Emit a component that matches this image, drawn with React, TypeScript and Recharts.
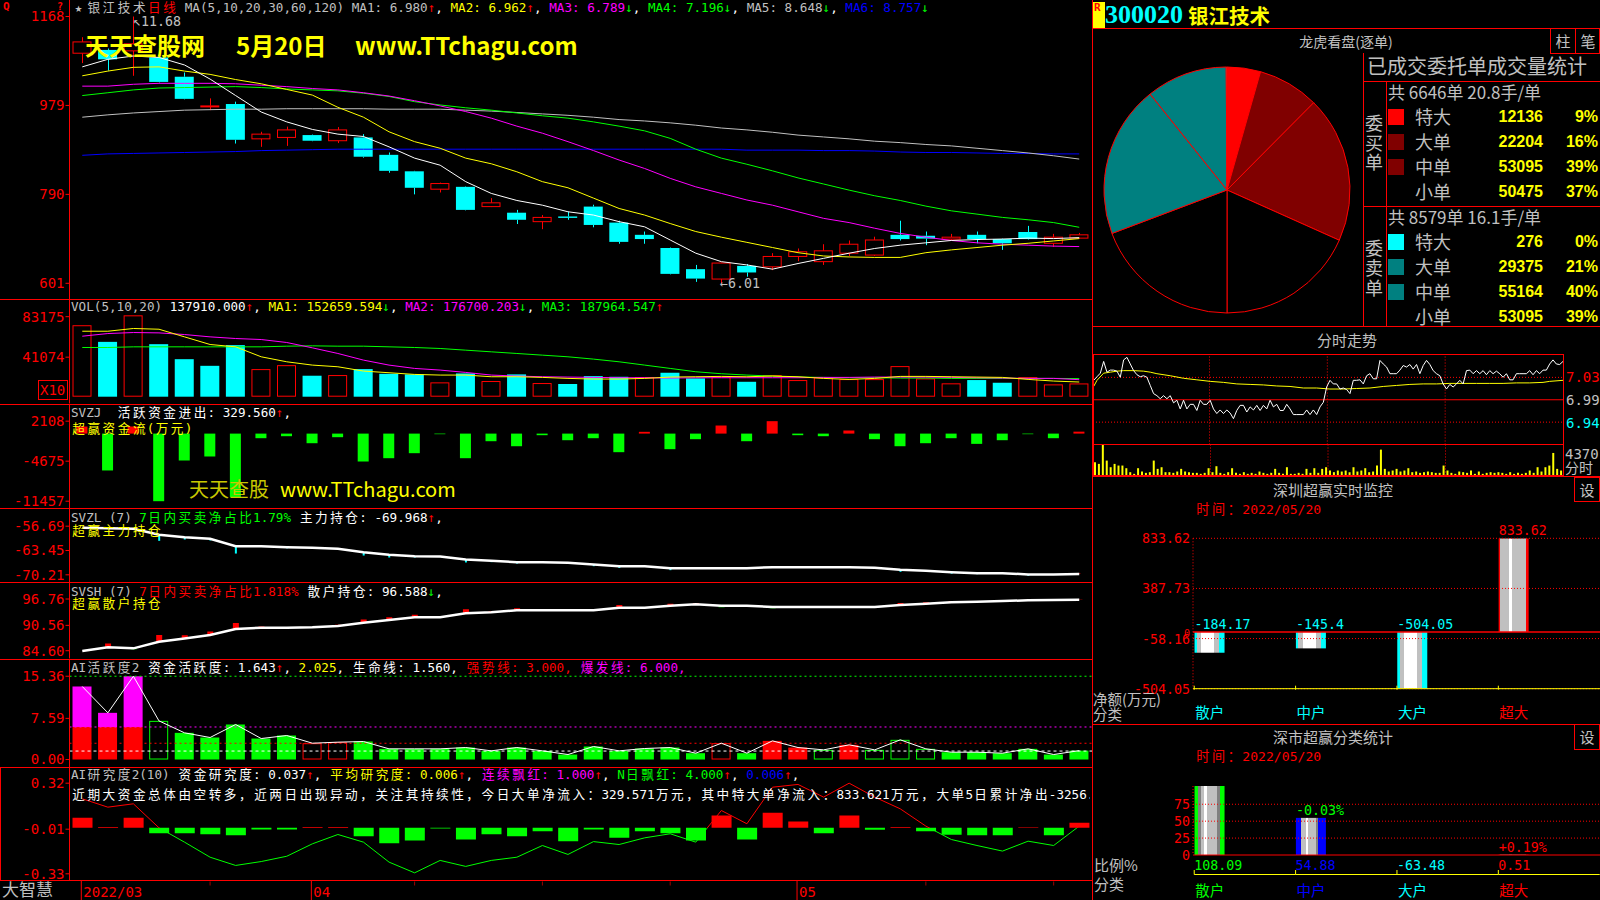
import React from 'react';
import { ComposedChart, Bar, Line, XAxis, YAxis, ReferenceLine, Cell, PieChart, Pie, LabelList } from 'recharts';

const RED = '#ff0000';
const CYAN = '#00ffff';
const GRN = '#00ff00';
const YEL = '#ffff00';
const MAG = '#ff00ff';
const BLU = '#0000ff';
const GRY = '#c0c0c0';
const WHT = '#ffffff';
const DRED = '#800000';
const TEAL = '#008080';
const MONO = '"DejaVu Sans Mono", "Noto Sans CJK SC", monospace';
const CJK = '"Noto Sans CJK SC", "DejaVu Sans", sans-serif';

// ---------- daily bars, 2022/03/21 .. 2022/05/20 ----------
const DATES = [
  '2022/03/21', '2022/03/22', '2022/03/23', '2022/03/24', '2022/03/25', '2022/03/28', '2022/03/29', '2022/03/30', '2022/03/31',
  '2022/04/01', '2022/04/06', '2022/04/07', '2022/04/08', '2022/04/11', '2022/04/12', '2022/04/13', '2022/04/14', '2022/04/15',
  '2022/04/18', '2022/04/19', '2022/04/20', '2022/04/21', '2022/04/22', '2022/04/25', '2022/04/26', '2022/04/27', '2022/04/28', '2022/04/29',
  '2022/05/05', '2022/05/06', '2022/05/09', '2022/05/10', '2022/05/11', '2022/05/12', '2022/05/13', '2022/05/16', '2022/05/17', '2022/05/18', '2022/05/19', '2022/05/20',
];
const DATE_MINOR_TICKS = [5, 13, 18, 23, 33, 38];

const OPEN = [10.90, 10.97, 10.95, 10.81, 10.40, 9.77, 9.82, 9.08, 9.11, 9.16, 9.04, 9.11, 8.74, 8.39, 8.01, 8.06, 7.64, 7.51, 7.32, 7.43,
  7.64, 7.30, 7.04, 6.76, 6.31, 6.10, 6.38, 6.36, 6.58, 6.47, 6.65, 6.61, 7.04, 7.02, 6.95, 7.04, 6.95, 7.10, 6.86, 6.97];
const HIGH = [11.24, 11.00, 11.68, 10.83, 10.49, 9.94, 9.87, 9.23, 9.34, 9.17, 9.33, 9.18, 8.79, 8.40, 8.15, 8.07, 7.82, 7.57, 7.46, 7.53,
  7.68, 7.34, 7.11, 6.77, 6.40, 6.45, 6.42, 6.65, 6.75, 6.84, 6.92, 7.00, 7.34, 7.11, 7.06, 7.11, 6.96, 7.23, 7.06, 7.08];
const LOW = [10.69, 10.53, 10.42, 10.28, 9.92, 9.69, 8.98, 8.91, 8.93, 9.03, 8.99, 8.68, 8.36, 7.90, 7.94, 7.56, 7.63, 7.27, 7.16, 7.36,
  7.20, 6.85, 6.85, 6.20, 6.04, 6.01, 6.15, 6.29, 6.48, 6.40, 6.59, 6.59, 6.92, 6.82, 6.92, 6.86, 6.72, 6.94, 6.78, 6.96];
const CLOSE = [11.14, 10.77, 11.10, 10.29, 9.93, 9.78, 9.06, 9.18, 9.27, 9.04, 9.27, 8.70, 8.40, 8.04, 8.13, 7.57, 7.72, 7.36, 7.41, 7.40,
  7.25, 6.89, 6.95, 6.21, 6.11, 6.44, 6.24, 6.58, 6.68, 6.70, 6.84, 6.93, 6.95, 6.96, 6.99, 6.95, 6.86, 6.95, 6.99, 7.04];

const MA5 = [10.61, 10.77, 10.84, 10.81, 10.65, 10.35, 10.00, 9.65, 9.44, 9.28, 9.18, 9.13, 8.91, 8.67, 8.52, 8.17, 7.92, 7.77, 7.67, 7.53,
  7.46, 7.32, 7.21, 6.93, 6.65, 6.47, 6.40, 6.31, 6.43, 6.54, 6.65, 6.75, 6.82, 6.87, 6.92, 6.94, 6.95, 6.97, 6.96, 6.98];
const MA10 = [10.42, 10.52, 10.60, 10.61, 10.52, 10.45, 10.34, 10.25, 10.13, 10.01, 9.75, 9.54, 9.23, 9.02, 8.88, 8.67, 8.55, 8.38, 8.17, 8.04,
  7.82, 7.60, 7.46, 7.28, 7.11, 6.99, 6.88, 6.77, 6.66, 6.59, 6.57, 6.56, 6.56, 6.66, 6.72, 6.77, 6.82, 6.86, 6.91, 6.96];
const MA20 = [10.20, 10.20, 10.24, 10.26, 10.26, 10.26, 10.25, 10.22, 10.19, 10.15, 10.12, 10.06, 9.99, 9.89, 9.78, 9.66, 9.52, 9.35, 9.20, 9.02,
  8.83, 8.63, 8.45, 8.24, 8.06, 7.92, 7.78, 7.67, 7.53, 7.39, 7.30, 7.18, 7.07, 6.99, 6.92, 6.87, 6.84, 6.82, 6.80, 6.79];
const MA30 = [10.00, 10.06, 10.12, 10.16, 10.17, 10.18, 10.19, 10.17, 10.14, 10.12, 10.10, 10.05, 9.98, 9.87, 9.80, 9.74, 9.69, 9.63, 9.57, 9.52,
  9.44, 9.35, 9.25, 9.09, 8.86, 8.67, 8.54, 8.40, 8.25, 8.12, 7.99, 7.87, 7.77, 7.65, 7.55, 7.48, 7.41, 7.36, 7.30, 7.20];
const MA60 = [9.54, 9.59, 9.63, 9.66, 9.69, 9.70, 9.71, 9.71, 9.72, 9.72, 9.72, 9.72, 9.71, 9.71, 9.71, 9.69, 9.67, 9.64, 9.61, 9.58,
  9.54, 9.49, 9.46, 9.42, 9.37, 9.31, 9.27, 9.22, 9.16, 9.12, 9.08, 9.03, 9.00, 8.96, 8.93, 8.88, 8.83, 8.78, 8.72, 8.65];
const MA120 = [8.73, 8.76, 8.77, 8.78, 8.79, 8.80, 8.81, 8.83, 8.84, 8.85, 8.86, 8.86, 8.86, 8.86, 8.86, 8.86, 8.86, 8.86, 8.86, 8.86,
  8.86, 8.86, 8.86, 8.86, 8.86, 8.86, 8.84, 8.84, 8.84, 8.83, 8.83, 8.82, 8.80, 8.79, 8.79, 8.78, 8.77, 8.77, 8.76, 8.76];

// volume shown on the x10 axis
const VOL = [74300, 57000, 84600, 54600, 39000, 32100, 53600, 28700, 32800, 21800, 22500, 28700, 23800, 23200, 14900, 24200, 16300, 23200, 14200, 13200,
  21400, 20700, 20400, 24900, 19000, 20700, 15500, 22500, 17300, 20100, 18300, 18300, 31800, 19000, 13900, 17300, 14500, 20400, 12800, 13791];
const VMA5 = [68060, 68060, 70900, 70140, 62190, 54250, 51830, 41470, 36290, 32840, 31110, 26630, 24900, 23170, 22480, 22480, 20750, 20750, 20060, 19030,
  18340, 18340, 19030, 20410, 20750, 21100, 20750, 21450, 20750, 19030, 17990, 19030, 21100, 21100, 20750, 20410, 20060, 17990, 16270, 15266];
const VMA10 = [62890, 65650, 66690, 66340, 64610, 62190, 60470, 59430, 56330, 50800, 44930, 38020, 32840, 29390, 27660, 25250, 22480, 21450, 20750, 20410,
  20060, 19720, 19720, 19370, 19720, 19720, 19720, 19720, 19720, 20060, 20060, 20410, 20410, 20410, 20060, 19720, 19370, 19030, 19030, 17670];
const VMA20 = [51150, 51150, 51830, 51830, 51830, 51830, 51830, 51830, 52520, 52870, 52520, 52520, 51830, 51150, 50110, 48380, 46650, 44930, 43200, 41470,
  39060, 36290, 32840, 29390, 25930, 23860, 22480, 21450, 20410, 20060, 19720, 19720, 19370, 19370, 19030, 19030, 19030, 19030, 19030, 18796];

const SVZJ = [1200, -6250, 1200, -11457, -4560, -3880, -10780, -780, -440, -1630, -610, -4730, -4170, -3320, -100, -4170, -1290, -2140, -270, -1120,
  -780, -3150, 300, -2640, -950, 1370, -1290, 2108, -270, -440, 525, -950, -2140, -1630, -780, -1740, -1120, -100, -780, 330];
const SVZL = [-57.14, -57.24, -57.42, -59.09, -59.74, -60.20, -62.25, -62.25, -62.53, -62.71, -62.99, -63.92, -64.66, -65.03, -65.12, -65.95, -66.32, -66.70, -66.70, -66.87,
  -67.34, -67.82, -67.82, -68.37, -68.37, -68.37, -68.37, -68.09, -68.09, -68.09, -68.09, -68.27, -68.83, -69.10, -69.49, -69.76, -69.76, -70.12, -70.12, -69.97];
const SVSH = [84.53, 85.40, 85.16, 86.72, 87.48, 88.29, 89.70, 90.01, 90.01, 90.10, 90.41, 91.19, 91.82, 92.45, 92.45, 93.40, 93.63, 94.10, 94.10, 94.10,
  94.10, 94.72, 94.72, 95.18, 95.51, 95.18, 95.18, 94.88, 94.88, 94.88, 94.88, 94.88, 95.35, 95.66, 95.98, 96.13, 96.30, 96.45, 96.55, 96.59];

const AIHY = [13.47, 8.61, 15.36, 7.13, 4.92, 4.06, 6.46, 3.87, 4.43, 3.01, 3.20, 3.32, 1.97, 1.97, 1.97, 2.21, 1.60, 2.21, 1.60, 0.92,
  2.40, 1.60, 2.03, 2.21, 1.17, 3.01, 1.17, 3.44, 2.21, 1.78, 2.71, 1.78, 3.63, 1.97, 1.35, 1.35, 1.17, 1.97, 0.92, 1.64];
// B burst, G green, h green hollow, R red, r red hollow
const AIHY_SIG = ['B', 'B', 'B', 'h', 'G', 'G', 'G', 'G', 'G', 'r', 'r', 'G', 'G', 'G', 'G', 'G', 'G', 'G', 'G', 'G',
  'G', 'G', 'G', 'G', 'G', 'r', 'G', 'R', 'R', 'h', 'R', 'h', 'h', 'h', 'G', 'G', 'G', 'G', 'G', 'G'];
const LIFE_LINE = 1.56;
const STRONG_LINE = 3;
const BURST_LINE = 6;
const AIHY_TOP = 15.36;

const AIYJ = [0.072, 0.005, 0.072, -0.039, -0.039, -0.046, -0.053, -0.012, -0.012, 0.005, 0.005, -0.060, -0.110, -0.091, -0.005, -0.084, -0.046, -0.060, -0.024, -0.096,
  -0.012, -0.072, -0.024, -0.039, -0.091, 0.088, -0.084, 0.107, 0.045, -0.039, 0.088, -0.014, 0.005, -0.024, -0.050, -0.053, -0.053, 0.004, -0.053, 0.037];
const AIYJ_LINE = [0.208, 0.148, 0.172, 0.000, -0.103, -0.211, -0.270, -0.242, -0.204, -0.115, -0.048, -0.103, -0.246, -0.323, -0.234, -0.277, -0.234, -0.211, -0.127, -0.191,
  -0.099, -0.120, -0.072, -0.043, -0.103, 0.124, 0.029, 0.291, 0.311, 0.220, 0.320, 0.220, 0.136, 0.012, -0.084, -0.127, -0.167, -0.096, -0.127, 0.012];

// ---------- right side ----------
const ORDER_CLASSES = ['特大', '大单', '中单', '小单'];
const BUY_VOL = [12136, 22204, 53095, 50475];
const BUY_PCT = ['9%', '16%', '39%', '37%'];
const SELL_VOL = [276, 29375, 55164, 53095];
const SELL_PCT = ['0%', '21%', '40%', '39%'];
const BUY_COUNT = '共 6646单 20.8手/单';
const SELL_COUNT = '共 8579单 16.1手/单';

const PREV_CLOSE = 6.99;
const MIN_PRICE = [7.028, 7.035, 7.042, 7.065, 7.044, 7.048, 7.048, 7.046, 7.034, 7.068, 7.073, 7.060, 7.047, 7.039, 7.035, 7.037, 7.034, 7.018, 7.002, 6.998,
  6.992, 6.998, 6.992, 6.998, 6.984, 6.989, 6.972, 6.989, 6.972, 6.981, 6.981, 6.969, 6.989, 6.981, 6.981, 6.989, 6.972, 6.963, 6.970, 6.963,
  6.970, 6.964, 6.953, 6.969, 6.979, 6.979, 6.966, 6.976, 6.970, 6.979, 6.969, 6.979, 6.972, 6.989, 6.976, 6.981, 6.969, 6.969, 6.981, 6.972,
  6.961, 6.961, 6.961, 6.961, 6.970, 6.961, 6.970, 6.961, 6.976, 6.985, 7.015, 7.028, 7.021, 7.021, 7.011, 7.013, 7.010, 7.002, 7.028, 7.028,
  7.029, 7.021, 7.037, 7.041, 7.031, 7.031, 7.067, 7.060, 7.054, 7.041, 7.041, 7.041, 7.048, 7.057, 7.054, 7.059, 7.050, 7.059, 7.041, 7.057,
  7.067, 7.059, 7.047, 7.041, 7.037, 7.021, 7.011, 7.020, 7.015, 7.021, 7.028, 7.021, 7.047, 7.048, 7.041, 7.047, 7.041, 7.047, 7.039, 7.047,
  7.041, 7.046, 7.041, 7.034, 7.041, 7.029, 7.029, 7.041, 7.041, 7.041, 7.041, 7.047, 7.039, 7.047, 7.041, 7.048, 7.048, 7.060, 7.068, 7.060,
  7.059, 7.065];
const AVG_IDX = [0, 1, 3, 5, 7, 9, 12, 15, 17, 19, 23, 27, 31, 35, 39, 43, 47, 51, 55, 59, 63, 67, 71, 75, 79, 83, 87, 91, 95, 99, 103, 107, 111, 115, 119, 123, 127, 131, 135, 137, 141];
const AVG_VAL = [7.016, 7.028, 7.042, 7.044, 7.046, 7.047, 7.047, 7.046, 7.044, 7.041, 7.037, 7.032, 7.029, 7.026, 7.024, 7.021, 7.020, 7.019, 7.017, 7.016,
  7.013, 7.013, 7.011, 7.011, 7.012, 7.013, 7.016, 7.018, 7.020, 7.021, 7.021, 7.022, 7.022, 7.022, 7.022, 7.022, 7.023, 7.023, 7.024, 7.026, 7.028];
const MIN_VOL = [1900, 1663, 4370, 2138, 1188, 1663, 1425, 1425, 1045, 475, 238, 1045, 570, 380, 475, 2138, 950, 1188, 475, 475,
  380, 570, 950, 570, 475, 380, 380, 238, 380, 1045, 475, 1330, 380, 238, 475, 1045, 380, 238, 475, 238,
  380, 238, 570, 380, 238, 380, 950, 380, 238, 1188, 238, 238, 380, 238, 950, 380, 1045, 380, 950, 1188,
  713, 475, 713, 570, 713, 475, 1188, 570, 713, 1045, 475, 570, 1425, 3705, 950, 570, 713, 950, 570, 713,
  1045, 475, 570, 380, 475, 570, 475, 380, 380, 1425, 713, 380, 238, 570, 475, 380, 713, 238, 570, 238,
  380, 475, 380, 475, 380, 238, 475, 238, 380, 238, 380, 713, 380, 1188, 570, 1188, 1425, 3230, 950, 713];

const SZ_CATS = ['散户', '中户', '大户', '超大'];
const SZ_NET = [-184.17, -145.4, -504.05, 833.62];
const SZ_TICKS = [-504.05, -58.16, 0, 387.73, 833.62];
const SC_PCT = [108.09, 54.88, -63.48, 0.51];
const SC_CHG = ['', '-0.03%', '', '+0.19%'];
const SC_COLORS = [GRN, BLU, CYAN, RED];
const REPORT_DATE = '时间：2022/05/20';

// ---------- rows ----------
const stepMark = (arr: number[], i: number) => {
  if (i === 0) return null;
  const ext = 2 * arr[i] - arr[i - 1];
  return [Math.min(arr[i], ext), Math.max(arr[i], ext)];
};
const rows = DATES.map((d, i) => ({
  d, o: OPEN[i], h: HIGH[i], l: LOW[i], c: CLOSE[i], hl: [LOW[i], HIGH[i]],
  vup: i === 0 || CLOSE[i] >= CLOSE[i - 1],
  ma5: MA5[i], ma10: MA10[i], ma20: MA20[i], ma30: MA30[i], ma60: MA60[i], ma120: MA120[i],
  vol: VOL[i], vma5: VMA5[i], vma10: VMA10[i], vma20: VMA20[i],
  zj: SVZJ[i], zl: SVZL[i], sh: SVSH[i], hy: AIHY[i], sig: AIHY_SIG[i], yj: AIYJ[i], yjl: AIYJ_LINE[i],
  zlMark: stepMark(SVZL, i), zlUp: i > 0 && SVZL[i] >= SVZL[i - 1],
  shMark: stepMark(SVSH, i), shUp: i > 0 && SVSH[i] >= SVSH[i - 1],
}));
const minuteRows = MIN_PRICE.map((p, i) => {
  const k = AVG_IDX.indexOf(i);
  return { i, p, a: k >= 0 ? AVG_VAL[k] : null };
});
const minVolRows = MIN_VOL.map((v, k) => ({ k, v }));
const szRows = SZ_CATS.map((name, k) => ({ k, v: SZ_NET[k] }));
const scRows = SZ_CATS.map((name, k) => ({ k, v: Math.max(SC_PCT[k], 0), chg: SC_CHG[k] }));
const pieData = [
  ...BUY_VOL.map((v, k) => ({ v, fill: [RED, DRED, DRED, '#000'][k] })),
  ...SELL_VOL.map((v, k) => ({ v, fill: [CYAN, TEAL, TEAL, '#000'][k] })).reverse(),
];

const yjMax = Math.max(...AIYJ_LINE);
const yjMin = Math.min(...AIYJ_LINE);
const yjOff = yjMax / (yjMax - yjMin);

// ---------- helpers ----------
const M0 = { top: 0, right: 0, bottom: 0, left: 0 };
const WIDE = /[\u2600-\u27ff\u3000-\u9fff\uff00-\uffef]/;

const T = ({ x, y, c = GRY, s = 14, a = 'start', f = CJK, b = false, children }: any) => {
  const st: React.CSSProperties = {
    position: 'absolute', top: y - s * 0.6, lineHeight: `${s * 1.2}px`, fontSize: s, color: c,
    fontFamily: f, fontWeight: b ? 700 : 400, whiteSpace: 'pre',
  };
  if (a === 'start') st.left = x;
  else if (a === 'end') st.right = 1600 - x;
  else { st.left = x; st.transform = 'translateX(-50%)'; }
  return <div style={st}>{children}</div>;
};

const MonoLine = ({ x, y, segs, s = 12.6, maxW }: any) => {
  const adv = s * 0.602;
  return (
    <div style={{ position: 'absolute', left: x, top: y - s * 0.65, fontFamily: MONO, fontSize: s, lineHeight: `${s * 1.3}px`, whiteSpace: 'pre', width: maxW, overflow: maxW ? 'hidden' : 'visible' }}>
      {segs.map(([t, c]: [string, string], k: number) => (
        <span key={k} style={{ color: c }}>
          {Array.from(t).map((ch, j) => (WIDE.test(ch)
            ? <span key={j} style={{ display: 'inline-block', width: adv * 2, textAlign: 'center' }}>{ch}</span>
            : ch))}
        </span>
      ))}
    </div>
  );
};

const HL = ({ x1, x2, y, c = RED }: any) => <div style={{ position: 'absolute', left: x1, top: y, width: x2 - x1, height: 1, background: c }} />;
const VL = ({ x, y1, y2, c = RED }: any) => <div style={{ position: 'absolute', left: x, top: y1, width: 1, height: y2 - y1, background: c }} />;
const Box = ({ x, y, w, h, c = RED }: any) => <div style={{ position: 'absolute', left: x, top: y, width: w, height: h, border: `1px solid ${c}`, boxSizing: 'border-box' }} />;

const yAx = {
  width: 69.5, allowDataOverflow: true, interval: 0 as const, tickSize: 4, tickMargin: 1,
  axisLine: { stroke: RED }, tickLine: { stroke: RED },
  tick: { fill: RED, fontSize: 14, fontFamily: MONO },
};

const norm = (p: any) => {
  let { y, height } = p;
  if (height < 0) { y += height; height = -height; }
  return { x: p.x, y, width: p.width, height };
};

const Candle = (props: any) => {
  const { x, y, width, height } = norm(props);
  const { o, h, l, c } = props.payload;
  const span = h - l || 1;
  const py = (v: number) => y + ((h - v) / span) * height;
  const up = c >= o;
  const col = up ? RED : CYAN;
  const cx = Math.round(x + width / 2) + 0.5;
  const top = py(Math.max(o, c));
  const bot = Math.max(py(Math.min(o, c)), top + 1);
  return (
    <g>
      <line x1={cx} x2={cx} y1={py(h)} y2={top} stroke={col} />
      <line x1={cx} x2={cx} y1={bot} y2={py(l)} stroke={col} />
      {up
        ? <rect x={x + 0.5} y={top} width={width - 1} height={bot - top} fill="#000" stroke={col} />
        : <rect x={x} y={top} width={width} height={bot - top} fill={col} />}
    </g>
  );
};

const VolBar = (props: any) => {
  const { x, y, width, height } = norm(props);
  if (props.payload.vup) return <rect x={x + 0.5} y={y + 0.5} width={width - 1} height={Math.max(height - 1, 0)} fill="none" stroke={RED} />;
  return <rect x={x} y={y} width={width} height={height} fill={CYAN} />;
};

const HyBar = (props: any) => {
  const { x, y, width, height } = norm(props);
  const { sig, hy } = props.payload;
  if (sig === 'B') {
    const cut = y + (height * (hy - BURST_LINE)) / hy;
    return (
      <g>
        <rect x={x} y={y} width={width} height={cut - y} fill={MAG} />
        <rect x={x} y={cut} width={width} height={y + height - cut} fill={RED} />
      </g>
    );
  }
  if (sig === 'h' || sig === 'r') {
    return <rect x={x + 0.5} y={y + 0.5} width={width - 1} height={height - 1} fill="none" stroke={sig === 'h' ? GRN : RED} />;
  }
  return <rect x={x} y={y} width={width} height={height} fill={sig === 'R' ? RED : GRN} />;
};

const DateTick = ({ x, y, payload }: any) => {
  const d: string = payload.value;
  const i = DATES.indexOf(d);
  const month = d.slice(5, 7);
  const first = i === 0 || DATES[i - 1].slice(5, 7) !== month;
  if (first) {
    return (
      <g>
        <line x1={x - 1} x2={x - 1} y1={y} y2={y + 20} stroke={RED} />
        <text x={x + 1} y={y + 16} fill={RED} fontSize={14} fontFamily={MONO}>{i === 0 ? d.slice(0, 7) : month}</text>
      </g>
    );
  }
  if (DATE_MINOR_TICKS.includes(i)) return <line x1={x} x2={x} y1={y + 1} y2={y + 5} stroke="#a00000" />;
  return <g />;
};

const stripes = (edge: string, stops: [number, string][]) => {
  const all: [number, string][] = [[0, edge], ...stops, [1, edge]];
  const out: any[] = [];
  for (let k = 0; k < all.length - 1; k++) {
    out.push(<stop key={`a${k}`} offset={all[k][0]} stopColor={all[k][1]} />);
    out.push(<stop key={`b${k}`} offset={all[k + 1][0]} stopColor={all[k][1]} />);
  }
  return out;
};
const CylDefs = () => (
  <defs>
    <linearGradient id="cylCyan" x1="0" y1="0" x2="1" y2="0">
      {stripes(CYAN, [[0.08, GRY], [0.22, WHT], [0.66, GRY], [0.83, CYAN]])}
    </linearGradient>
    <linearGradient id="cylRed" x1="0" y1="0" x2="1" y2="0">
      {stripes(RED, [[0.06, GRY], [0.35, WHT], [0.46, GRY], [0.92, RED]])}
    </linearGradient>
    <linearGradient id="cylGreen" x1="0" y1="0" x2="1" y2="0">
      {stripes(GRN, [[0.11, '#808080'], [0.22, GRY], [0.33, WHT], [0.4, GRY], [0.76, '#808080'], [0.86, GRN]])}
    </linearGradient>
    <linearGradient id="cylBlue" x1="0" y1="0" x2="1" y2="0">
      {stripes(BLU, [[0.17, GRY], [0.33, WHT], [0.41, GRY], [0.67, '#808080'], [0.75, BLU]])}
    </linearGradient>
  </defs>
);
const GRAD_BY_COLOR: Record<string, string> = { [CYAN]: 'url(#cylCyan)', [RED]: 'url(#cylRed)', [GRN]: 'url(#cylGreen)', [BLU]: 'url(#cylBlue)' };

const SzBar = (props: any) => {
  const { x, y, width, height } = norm(props);
  const fill = props.payload.v < 0 ? GRAD_BY_COLOR[CYAN] : GRAD_BY_COLOR[RED];
  return <rect x={x} y={y} width={width} height={Math.max(height, 0)} fill={fill} />;
};
const ScBar = (props: any) => {
  const { x, y, width, height } = norm(props);
  return <rect x={x} y={y} width={width} height={Math.max(height, 0)} fill={GRAD_BY_COLOR[SC_COLORS[props.payload.k]]} />;
};

const SmYTick = ({ x, y, payload }: any) => (
  <text x={x} y={y + 5} textAnchor="end" fill={RED} fontSize={payload.value === 0 ? 10 : 13.3} fontFamily={MONO}>
    {payload.value === 0 ? '0' : payload.value.toFixed(2)}
  </text>
);
const ScYTick = ({ x, y, payload }: any) => (
  <text x={x} y={y + 5} textAnchor="end" fill={RED} fontSize={13.3} fontFamily={MONO}>{payload.value}</text>
);
const SzXTick = ({ x, y, payload }: any) => {
  const k = payload.value;
  const left = x - 15;
  return (
    <g>
      <line x1={left} x2={left} y1={y + 1} y2={y - 3} stroke={YEL} />
      <text x={left + 1} y={y + 29} fill={SZ_NET[k] < 0 ? CYAN : RED} fontSize={14.5} fontFamily={CJK}>{SZ_CATS[k]}</text>
    </g>
  );
};
const ScXTick = ({ x, y, payload }: any) => {
  const k = payload.value;
  const left = x - 15;
  return (
    <g>
      <text x={left} y={y + 15} fill={SC_COLORS[k]} fontSize={13.3} fontFamily={MONO}>{SC_PCT[k].toFixed(2)}</text>
      <line x1={left} x2={left + 101.4} y1={y + 19.5} y2={y + 19.5} stroke={YEL} />
      <line x1={left} x2={left} y1={y + 19.5} y2={y + 15} stroke={YEL} />
      <text x={left + 1} y={y + 41} fill={SC_COLORS[k]} fontSize={14.5} fontFamily={CJK}>{SZ_CATS[k]}</text>
    </g>
  );
};
const SzLabel = (p: any) => {
  const top = Math.min(p.y, p.y + p.height);
  return <text x={p.x} y={top - 3} fill={p.value < 0 ? CYAN : RED} fontSize={13.3} fontFamily={MONO}>{String(p.value)}</text>;
};
const ScLabel = (p: any) => {
  const top = Math.min(p.y, p.y + p.height);
  const t = p.value as string;
  if (!t) return null;
  return <text x={p.x} y={top - 3} fill={t.startsWith('-') ? GRN : RED} fontSize={13.3} fontFamily={MONO}>{t}</text>;
};

// ---------- header texts ----------
const UP: [string, string] = ['↑', RED];
const DN: [string, string] = ['↓', GRN];
const CM: [string, string] = [', ', WHT];
const HEAD_MAIN = [['★银江技术', GRY], ['日线', RED], [' MA(5,10,20,30,60,120) ', GRY], ['MA1: 6.980', GRY], UP, CM, ['MA2: 6.962', YEL], UP, CM,
  ['MA3: 6.789', MAG], DN, CM, ['MA4: 7.196', GRN], DN, CM, ['MA5: 8.648', GRY], DN, CM, ['MA6: 8.757', BLU], DN];
const HEAD_VOL = [['VOL(5,10,20) ', GRY], ['137910.000', WHT], UP, CM, ['MA1: 152659.594', YEL], DN, CM, ['MA2: 176700.203', MAG], DN, CM, ['MA3: 187964.547', GRN], UP];
const HEAD_ZJ = [['SVZJ  ', GRY], ['活跃资金进出: 329.560', WHT], UP, [',', WHT]];
const HEAD_ZL = [['SVZL (7) ', GRY], ['7日内买卖净占比1.79%', GRN], [' 主力持仓: -69.968', WHT], UP, [',', WHT]];
const HEAD_SH = [['SVSH (7) ', GRY], ['7日内买卖净占比1.818%', RED], [' 散户持仓: 96.588', WHT], DN, [',', WHT]];
const HEAD_HY = [['AI活跃度2 ', GRY], ['资金活跃度: 1.643', WHT], UP, CM, ['2.025', YEL], [', 生命线: 1.560, ', WHT], ['强势线: 3.000, ', RED], ['爆发线: 6.000,', MAG]];
const HEAD_YJ = [['AI研究度2(10) ', GRY], ['资金研究度: 0.037', WHT], UP, CM, ['平均研究度: 0.006', YEL], UP, CM, ['连续飘红: 1.000', MAG], UP, CM,
  ['N日飘红: 4.000', GRN], UP, CM, ['0.006', BLU], UP, [',', WHT]];
const NOTE_YJ = '近期大资金总体由空转多，近两日出现异动，关注其持续性，今日大单净流入：329.571万元，其中特大单净流入：833.621万元，大单5日累计净出-3256.';

const Panel = ({ top, height, domain, ticks, fmt, bottomAxis = false, children }: any) => (
  <div style={{ position: 'absolute', left: 0, top }}>
    <ComposedChart width={1092} height={height} data={rows} margin={M0}>
      {bottomAxis
        ? <XAxis dataKey="d" height={20} interval={0} axisLine={{ stroke: RED }} tickLine={false} tickSize={0} tickMargin={0} tick={DateTick} />
        : <XAxis dataKey="d" hide />}
      <YAxis {...yAx} domain={domain} ticks={ticks} tickFormatter={fmt} />
      {children}
    </ComposedChart>
  </div>
);

export default function App() {
  return (
    <div style={{ position: 'fixed', left: 0, top: 0, width: 1600, height: 900, background: '#000', overflow: 'hidden', fontFamily: CJK }}>
      {/* K line */}
      <Panel top={0} height={299} domain={[5.676, 12.031]} ticks={[6.01, 7.9, 9.79, 11.68]} fmt={(v: number) => (v * 100).toFixed(0)}>
        <Bar dataKey="hl" barSize={19} shape={Candle} isAnimationActive={false} />
        <Line dataKey="ma120" stroke={BLU} dot={false} isAnimationActive={false} />
        <Line dataKey="ma60" stroke={GRY} dot={false} isAnimationActive={false} />
        <Line dataKey="ma30" stroke={GRN} dot={false} isAnimationActive={false} />
        <Line dataKey="ma20" stroke={MAG} dot={false} isAnimationActive={false} />
        <Line dataKey="ma10" stroke={YEL} dot={false} isAnimationActive={false} />
        <Line dataKey="ma5" stroke={WHT} dot={false} isAnimationActive={false} />
      </Panel>
      {/* volume */}
      <Panel top={299} height={104.5} domain={[-7070, 101560]} ticks={[41074, 83175]} fmt={(v: number) => String(v)}>
        <Bar dataKey="vol" barSize={19} shape={VolBar} isAnimationActive={false} />
        <Line dataKey="vma20" stroke={GRN} dot={false} isAnimationActive={false} />
        <Line dataKey="vma10" stroke={MAG} dot={false} isAnimationActive={false} />
        <Line dataKey="vma5" stroke={YEL} dot={false} isAnimationActive={false} />
      </Panel>
      {/* SVZJ */}
      <Panel top={403.5} height={104} domain={[-12610, 5017]} ticks={[-11457, -4675, 2108]} fmt={(v: number) => String(v)}>
        <Bar dataKey="zj" barSize={11} isAnimationActive={false}>
          {rows.map((r, i) => <Cell key={i} fill={r.zj >= 0 ? RED : GRN} />)}
        </Bar>
      </Panel>
      {/* SVZL */}
      <Panel top={507.5} height={74.5} domain={[-72.35, -51.63]} ticks={[-70.21, -63.45, -56.69]} fmt={(v: number) => v.toFixed(2)}>
        <Line dataKey="zl" stroke={WHT} strokeWidth={2.5} dot={false} isAnimationActive={false} />
        <Bar dataKey="zlMark" barSize={2} isAnimationActive={false}>
          {rows.map((r, i) => <Cell key={i} fill={r.zlUp ? RED : CYAN} />)}
        </Bar>
      </Panel>
      {/* SVSH */}
      <Panel top={582} height={76.5} domain={[82.77, 100.76]} ticks={[84.6, 90.56, 96.76]} fmt={(v: number) => v.toFixed(2)}>
        <Line dataKey="sh" stroke={WHT} strokeWidth={2.5} dot={false} isAnimationActive={false} />
        <Bar dataKey="shMark" barSize={6} isAnimationActive={false}>
          {rows.map((r, i) => <Cell key={i} fill={r.shUp ? RED : GRN} />)}
        </Bar>
      </Panel>
      {/* AI activity */}
      <Panel top={658.5} height={108} domain={[-1.38, 18.54]} ticks={[0, 7.59, 15.36]} fmt={(v: number) => v.toFixed(2)}>
        <ReferenceLine y={AIHY_TOP} stroke={GRN} strokeDasharray="2 3" />
        <ReferenceLine y={BURST_LINE} stroke={MAG} strokeDasharray="2 3" />
        <ReferenceLine y={STRONG_LINE} stroke={RED} strokeDasharray="2 3" />
        <Bar dataKey="hy" barSize={19} shape={HyBar} isAnimationActive={false} />
        <ReferenceLine y={LIFE_LINE} stroke={WHT} strokeDasharray="3 3" />
        <Line dataKey="hy" stroke={WHT} dot={false} isAnimationActive={false} />
      </Panel>
      {/* AI research */}
      <Panel top={766.5} height={133.5} domain={[-0.378, 0.436]} ticks={[-0.33, -0.01, 0.32]} fmt={(v: number) => v.toFixed(2)} bottomAxis>
        <defs>
          <linearGradient id="yjGrad" x1="0" y1="0" x2="0" y2="1">
            <stop offset={yjOff} stopColor={RED} />
            <stop offset={yjOff} stopColor={GRN} />
          </linearGradient>
        </defs>
        <Bar dataKey="yj" barSize={20} isAnimationActive={false}>
          {rows.map((r, i) => <Cell key={i} fill={r.yj >= 0 ? RED : GRN} />)}
        </Bar>
        <Line dataKey="yjl" stroke="url(#yjGrad)" dot={false} isAnimationActive={false} />
      </Panel>

      {/* left panel texts */}
      <MonoLine x={71} y={8} segs={HEAD_MAIN} />
      <MonoLine x={71} y={307} segs={HEAD_VOL} />
      <MonoLine x={71} y={413} segs={HEAD_ZJ} />
      <MonoLine x={71} y={429} segs={[['超赢资金流(万元)', YEL]]} />
      <MonoLine x={71} y={518} segs={HEAD_ZL} />
      <MonoLine x={71} y={531} segs={[['超赢主力持仓', YEL]]} />
      <MonoLine x={71} y={592} segs={HEAD_SH} />
      <MonoLine x={71} y={604} segs={[['超赢散户持仓', YEL]]} />
      <MonoLine x={71} y={668} segs={HEAD_HY} />
      <MonoLine x={71} y={775} segs={HEAD_YJ} />
      <MonoLine x={71} y={795} segs={[[NOTE_YJ, WHT]]} maxW={1019} />
      <T x={133} y={22} c={GRY} s={13.3} f={MONO}>↖11.68</T>
      <T x={720} y={284} c={GRY} s={13.3} f={MONO}>←6.01</T>
      <T x={85} y={45} c={YEL} s={24} b>天天查股网</T>
      <T x={236} y={45} c={YEL} s={24} b>5月20日</T>
      <T x={355} y={45} c={YEL} s={24} b>www.TTchagu.com</T>
      <T x={189} y={489} c="#c8c800" s={20}>天天查股</T>
      <T x={280} y={489} c={YEL} s={20}>www.TTchagu.com</T>
      <T x={3} y={7} c={RED} s={11} f={MONO} b>Q</T>
      <T x={57} y={7} c={RED} s={10} f={MONO} b>?</T>
      <Box x={38} y={380} w={30} h={20} />
      <T x={40} y={390} c={RED} s={14} f={MONO}>X10</T>
      <T x={2} y={889} c={GRY} s={17}>大智慧</T>
      <Box x={0} y={766.5} w={70} h={114} />
      {[299, 403.5, 507.5, 582, 658.5, 766.5].map((y) => <HL key={y} x1={0} x2={1092} y={y} />)}

      {/* right side */}
      <VL x={1092} y1={0} y2={900} />
      <div style={{ position: 'absolute', left: 1093, top: 2, width: 12, height: 26, background: YEL }} />
      <T x={1094} y={8} c={RED} s={11} f={MONO} b>R</T>
      <T x={1105} y={15} c={CYAN} s={26} f='"Liberation Serif", serif' b>300020</T>
      <T x={1188} y={15} c={YEL} s={20.5} b>银江技术</T>
      <HL x1={1092} x2={1600} y={28} />
      <T x={1346} y={41} s={14} a="middle">龙虎看盘(逐单)</T>
      <Box x={1550} y={28} w={26} h={26} />
      <Box x={1575} y={28} w={25} h={26} />
      <T x={1563} y={41} s={15} a="middle">柱</T>
      <T x={1588} y={41} s={15} a="middle">笔</T>
      <div style={{ position: 'absolute', left: 1101.7, top: 65 }}>
        <PieChart width={250} height={250} margin={M0}>
          <Pie data={pieData} dataKey="v" cx={125} cy={125} outerRadius={123} startAngle={90} endAngle={-270} stroke={RED} strokeWidth={1} isAnimationActive={false}>
            {pieData.map((p, i) => <Cell key={i} fill={p.fill} />)}
          </Pie>
        </PieChart>
      </div>
      <VL x={1362.5} y1={53} y2={326} />
      <T x={1367} y={66} s={20}>已成交委托单成交量统计</T>
      <HL x1={1363} x2={1600} y={80.5} />
      <VL x={1385.5} y1={81} y2={326} />
      <HL x1={1363} x2={1600} y={205.5} />
      <T x={1388} y={92} s={17}>{BUY_COUNT}</T>
      <T x={1388} y={217} s={17}>{SELL_COUNT}</T>
      {['委', '买', '单'].map((ch, k) => <T key={ch} x={1374} y={123 + k * 19.5} s={18} a="middle">{ch}</T>)}
      {['委', '卖', '单'].map((ch, k) => <T key={`s${ch}`} x={1374} y={248 + k * 20} s={18} a="middle">{ch}</T>)}
      {ORDER_CLASSES.map((name, k) => {
        const yb = 116.7 + k * 24.9;
        const ys = 241.7 + k * 24.9;
        return (
          <React.Fragment key={name}>
            {k < 3 && <div style={{ position: 'absolute', left: 1388, top: yb - 8, width: 16, height: 16, background: [RED, DRED, DRED][k] }} />}
            {k < 3 && <div style={{ position: 'absolute', left: 1388, top: ys - 8, width: 16, height: 16, background: [CYAN, TEAL, TEAL][k] }} />}
            <T x={1415} y={yb} s={18}>{name}</T>
            <T x={1415} y={ys} s={18}>{name}</T>
            <T x={1543} y={yb} s={16} c={YEL} a="end" f='"Liberation Sans", sans-serif' b>{String(BUY_VOL[k])}</T>
            <T x={1543} y={ys} s={16} c={YEL} a="end" f='"Liberation Sans", sans-serif' b>{String(SELL_VOL[k])}</T>
            <T x={1598} y={yb} s={16} c={YEL} a="end" f='"Liberation Sans", sans-serif' b>{BUY_PCT[k]}</T>
            <T x={1598} y={ys} s={16} c={YEL} a="end" f='"Liberation Sans", sans-serif' b>{SELL_PCT[k]}</T>
          </React.Fragment>
        );
      })}
      <HL x1={1092} x2={1600} y={326} />

      {/* intraday */}
      <T x={1347} y={340} s={15} a="middle">分时走势</T>
      <div style={{ position: 'absolute', left: 1093, top: 354.5 }}>
        <ComposedChart width={470} height={89.5} data={minuteRows} margin={M0}>
          <XAxis type="number" dataKey="i" domain={[-0.2, 141]} hide allowDataOverflow />
          <YAxis domain={[6.9024, 7.0776]} hide allowDataOverflow />
          <ReferenceLine y={PREV_CLOSE} stroke={RED} />
          <ReferenceLine y={7.0338} stroke={RED} strokeDasharray="1 2" />
          <ReferenceLine y={6.9462} stroke={RED} strokeDasharray="1 2" />
          {[34.8, 70.2, 105.6].map((x) => <ReferenceLine key={x} x={x} stroke={RED} strokeDasharray="1 2" />)}
          <Line dataKey="a" stroke={YEL} dot={false} connectNulls isAnimationActive={false} />
          <Line dataKey="p" stroke={WHT} dot={false} isAnimationActive={false} />
        </ComposedChart>
      </div>
      <div style={{ position: 'absolute', left: 1093, top: 444.5 }}>
        <ComposedChart width={470} height={30.5} data={minVolRows} margin={M0}>
          <XAxis type="number" dataKey="k" domain={[-0.5, 119.5]} hide allowDataOverflow />
          <YAxis domain={[0, 4370]} hide allowDataOverflow />
          {[29.5, 59.5, 89.5].map((x) => <ReferenceLine key={x} x={x} stroke={RED} strokeDasharray="1 2" />)}
          <Bar dataKey="v" fill={YEL} barSize={2} isAnimationActive={false} />
        </ComposedChart>
      </div>
      <Box x={1092.5} y={354} w={471} h={91} />
      <Box x={1092.5} y={444} w={471} h={32} />
      <T x={1566} y={377} c={RED} s={14} f={MONO}>7.03</T>
      <T x={1566} y={400} c={GRY} s={14} f={MONO}>6.99</T>
      <T x={1566} y={423} c={CYAN} s={14} f={MONO}>6.94</T>
      <T x={1565} y={454} c={GRY} s={14} f={MONO}>4370</T>
      <T x={1565} y={467} c={GRY} s={14}>分时</T>
      <HL x1={1092} x2={1600} y={476} />

      {/* Shenzhen realtime */}
      <T x={1333} y={490} s={15} a="middle">深圳超赢实时监控</T>
      <Box x={1574} y={477} w={26} h={25} />
      <T x={1587} y={490} s={15} a="middle">设</T>
      <MonoLine x={1195} y={510} s={13.1} segs={[[REPORT_DATE, RED]]} />
      <div style={{ position: 'absolute', left: 1092, top: 480 }}>
        <ComposedChart width={508} height={244} data={szRows} margin={{ top: 58.3, right: 0, bottom: 0, left: 0 }}>
          <CylDefs />
          <XAxis type="number" dataKey="k" domain={[-0.16, 3.855]} ticks={[0, 1, 2, 3]} interval={0} height={35.3}
            axisLine={{ stroke: YEL }} tickLine={false} tickSize={0} tickMargin={0} tick={SzXTick} allowDataOverflow />
          <YAxis width={101} domain={[-504.05, 833.62]} ticks={SZ_TICKS} interval={0} axisLine={{ stroke: RED, strokeDasharray: '1 2' }}
            tickLine={false} tickSize={0} tickMargin={3} tick={SmYTick} allowDataOverflow />
          {[833.62, 387.73, -58.16, -504.05].map((v) => <ReferenceLine key={v} y={v} stroke={RED} strokeDasharray="1 2" />)}
          <ReferenceLine y={0} stroke={RED} strokeWidth={1.5} />
          <Bar dataKey="v" barSize={30} shape={SzBar} isAnimationActive={false}>
            <LabelList dataKey="v" content={SzLabel} />
          </Bar>
        </ComposedChart>
      </div>
      <T x={1093} y={699} s={14.5}>净额(万元)</T>
      <T x={1093} y={714} s={14.5}>分类</T>
      <HL x1={1092} x2={1600} y={724} />

      {/* Shenzhen category stats */}
      <T x={1333} y={737} s={15} a="middle">深市超赢分类统计</T>
      <Box x={1574} y={724} w={26} h={26} />
      <T x={1587} y={737} s={15} a="middle">设</T>
      <MonoLine x={1195} y={757} s={13.1} segs={[[REPORT_DATE, RED]]} />
      <div style={{ position: 'absolute', left: 1092, top: 724 }}>
        <ComposedChart width={508} height={176} data={scRows} margin={{ top: 62, right: 0, bottom: 0, left: 0 }}>
          <CylDefs />
          <XAxis type="number" dataKey="k" domain={[-0.16, 3.855]} ticks={[0, 1, 2, 3]} interval={0} height={45}
            axisLine={{ stroke: RED }} tickLine={false} tickSize={0} tickMargin={0} tick={ScXTick} allowDataOverflow />
          <YAxis width={101} domain={[0, 102]} ticks={[0, 25, 50, 75]} interval={0} axisLine={{ stroke: RED, strokeDasharray: '1 2' }}
            tickLine={false} tickSize={0} tickMargin={3} tick={ScYTick} allowDataOverflow />
          {[25, 50, 75].map((v) => <ReferenceLine key={v} y={v} stroke={RED} strokeDasharray="1 2" />)}
          <Bar dataKey="v" barSize={30} shape={ScBar} isAnimationActive={false}>
            <LabelList dataKey="chg" content={ScLabel} />
          </Bar>
        </ComposedChart>
      </div>
      <T x={1094} y={865} s={15}>比例%</T>
      <T x={1094} y={884} s={15}>分类</T>
    </div>
  );
}
